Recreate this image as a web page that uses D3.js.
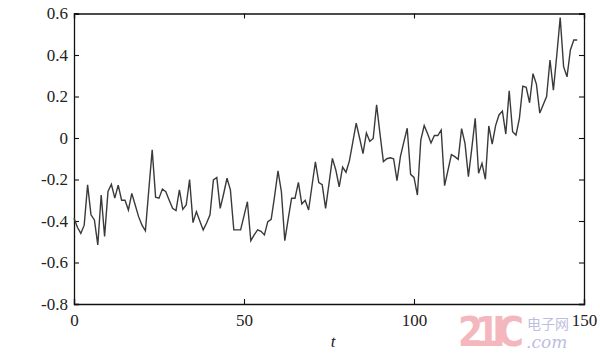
<!DOCTYPE html>
<html>
<head>
<meta charset="utf-8">
<script src="https://cdn.jsdelivr.net/npm/d3@7"></script>
<style>
  body { margin: 0; background: #fff; }
  svg { display: block; font-family: "Liberation Serif", "Times New Roman", serif; }
</style>
</head>
<body>
<div id="chart"></div>
<script>
// Data (t = 0..148)
const values = [
  -0.387, -0.43, -0.46, -0.42, -0.226, -0.37, -0.395, -0.515, -0.275, -0.475,
  -0.258, -0.223, -0.29, -0.227, -0.30, -0.30, -0.347, -0.267, -0.323, -0.379,
  -0.42, -0.447, -0.25, -0.057, -0.285, -0.29, -0.246, -0.259, -0.30, -0.339,
  -0.35, -0.25, -0.344, -0.323, -0.20, -0.408, -0.355, -0.40, -0.443, -0.41,
  -0.37, -0.202, -0.19, -0.339, -0.27, -0.194, -0.25, -0.443, -0.443, -0.443,
  -0.375, -0.307, -0.495, -0.467, -0.443, -0.45, -0.467, -0.403, -0.392, -0.28,
  -0.158, -0.259, -0.495, -0.39, -0.29, -0.29, -0.214, -0.318, -0.30, -0.347,
  -0.23, -0.115, -0.215, -0.225, -0.339, -0.22, -0.098, -0.154, -0.235, -0.14,
  -0.165, -0.11, -0.02, 0.072, 0.0, -0.075, 0.024, -0.016, -0.002, 0.16,
  0.02, -0.114, -0.10, -0.095, -0.10, -0.205, -0.09, -0.02, 0.047, -0.175,
  -0.19, -0.275, -0.01, 0.06, 0.02, -0.024, 0.012, 0.012, 0.039, -0.23,
  -0.155, -0.08, -0.09, -0.103, 0.045, -0.026, -0.186, -0.05, 0.095, -0.17,
  -0.122, -0.199, 0.058, -0.03, 0.06, 0.111, 0.13, 0.019, 0.228, 0.03,
  0.014, 0.095, 0.25, 0.244, 0.17, 0.31, 0.26, 0.12, 0.16, 0.20,
  0.376, 0.231, 0.40, 0.58, 0.344, 0.295, 0.424, 0.472, 0.472
];
const xTicks = [0, 50, 100, 150];
const xTickLabels = ["0", "50", "100", "150"];
const yTicks = [0.6, 0.4, 0.2, 0, -0.2, -0.4, -0.6, -0.8];
const yTickLabels = ["0.6", "0.4", "0.2", "0", "-0.2", "-0.4", "-0.6", "-0.8"];
const xTitle = "t";

const width = 600, height = 356;
const margin = { top: 13.5, right: 16, bottom: 52, left: 74 };

const svg = d3.select('#chart').append('svg').attr('width', width).attr('height', height);

const x = d3.scaleLinear().domain([0, 150]).range([margin.left, width - margin.right]);
const y = d3.scaleLinear().domain([-0.8, 0.6]).range([height - margin.bottom, margin.top]);

const tickLen = 5;
const fmtX = (d) => xTickLabels[xTicks.indexOf(d)];
const fmtY = (d) => yTickLabels[yTicks.indexOf(d)];

// axes, ticks pointing inward on all four sides
const gBottom = svg.append('g').attr('transform', `translate(0,${y(-0.8)})`)
  .call(d3.axisBottom(x).tickValues(xTicks).tickFormat(fmtX).tickSize(-tickLen).tickPadding(10));
const gTop = svg.append('g').attr('transform', `translate(0,${y(0.6)})`)
  .call(d3.axisTop(x).tickValues(xTicks).tickFormat('').tickSize(-tickLen));
const gLeft = svg.append('g').attr('transform', `translate(${x(0)},0)`)
  .call(d3.axisLeft(y).tickValues(yTicks).tickFormat(fmtY).tickSize(-tickLen).tickPadding(6));
const gRight = svg.append('g').attr('transform', `translate(${x(150)},0)`)
  .call(d3.axisRight(y).tickValues(yTicks).tickFormat('').tickSize(-tickLen));

[gBottom, gTop, gLeft, gRight].forEach(g => {
  g.select('.domain').attr('stroke', '#111').attr('stroke-width', 1.3);
  g.selectAll('.tick line').attr('stroke', '#111').attr('stroke-width', 1.1);
  g.selectAll('.tick text').attr('fill', '#222').style('font-size', '17px')
    .style('font-family', '"Liberation Serif", "Times New Roman", serif');
});

// the series
const line = d3.line().x((d, i) => x(i)).y(d => y(d));
svg.append('path').datum(values)
  .attr('fill', 'none').attr('stroke', '#3a3a3a').attr('stroke-width', 1.4)
  .attr('stroke-linejoin', 'miter').attr('d', line);

// axis title
svg.append('text').attr('x', 333).attr('y', 347).attr('text-anchor', 'middle')
  .style('font-size', '17px').style('font-style', 'italic').attr('fill', '#222').text(xTitle);

// watermark of the source site
const wm = svg.append('g').attr('opacity', 0.75);
wm.append('text').attr('x', 458).attr('y', 346)
  .style('font-family', '"DejaVu Sans Condensed", "DejaVu Sans", sans-serif').style('font-weight', 'bold')
  .style('font-size', '40px').attr('fill', '#f0a0a8').attr('textLength', 66).text('21IC');
wm.append('text').attr('x', 527).attr('y', 329)
  .style('font-family', '"Noto Sans CJK SC", sans-serif').style('font-size', '14px')
  .attr('fill', '#a8a8d8').text('电子网');
wm.append('text').attr('x', 526).attr('y', 348)
  .style('font-family', '"DejaVu Serif", serif').style('font-style', 'italic')
  .style('font-size', '17px').attr('fill', '#a8a8d8').text('.com');
</script>
</body>
</html>
